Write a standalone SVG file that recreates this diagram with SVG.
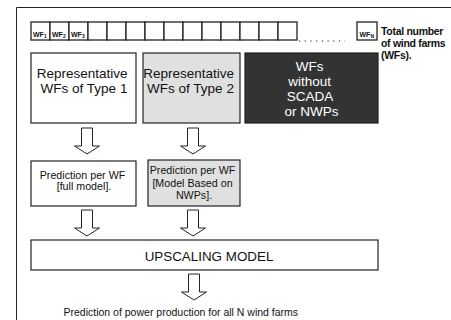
<svg xmlns="http://www.w3.org/2000/svg" width="451" height="320" viewBox="0 0 451 320">
  <defs>
    <style>
      .box { stroke: #222; stroke-width: 1.2; }
      .wf { fill: #fff; stroke: #222; stroke-width: 1.3; }
      .t { font-family: "Liberation Sans", Arial, sans-serif; fill: #111; }
      .lbl { font-family: "Liberation Sans", Arial, sans-serif; font-weight: bold; font-size: 7px; fill: #111; }
      .arrow { fill: #fff; stroke: #222; stroke-width: 1; }
    </style>
  </defs>
  <rect width="451" height="320" fill="#fff"/>

  <!-- outer frame (runs past the canvas edges) -->
  <path d="M16.5,330 V7.5 H460" fill="none" stroke="#222" stroke-width="1"/>

  <!-- row of wind farm cells -->
  <g id="wf-row">
    <rect class="wf" x="31" y="22" width="19" height="18"/>
    <rect class="wf" x="50" y="22" width="19" height="18"/>
    <rect class="wf" x="69" y="22" width="19" height="18"/>
    <rect class="wf" x="88" y="22" width="19" height="18"/>
    <rect class="wf" x="107" y="22" width="19" height="18"/>
    <rect class="wf" x="126" y="22" width="19" height="18"/>
    <rect class="wf" x="145" y="22" width="19" height="18"/>
    <rect class="wf" x="164" y="22" width="19" height="18"/>
    <rect class="wf" x="183" y="22" width="19" height="18"/>
    <rect class="wf" x="202" y="22" width="19" height="18"/>
    <rect class="wf" x="221" y="22" width="19" height="18"/>
    <rect class="wf" x="240" y="22" width="19" height="18"/>
    <rect class="wf" x="259" y="22" width="19" height="18"/>
    <rect class="wf" x="278" y="22" width="19" height="18"/>
    <text class="lbl" x="33" y="36.5">WF<tspan font-size="5" dy="1">1</tspan></text>
    <text class="lbl" x="52" y="36.5">WF<tspan font-size="5" dy="1">2</tspan></text>
    <text class="lbl" x="71" y="36.5">WF<tspan font-size="5" dy="1">3</tspan></text>
    <line x1="299" y1="41" x2="345" y2="41" stroke="#222" stroke-width="1.2" stroke-dasharray="1.2 4.5"/>
    <rect class="wf" x="357" y="22" width="20" height="18"/>
    <text class="lbl" x="359.5" y="36.5">WF<tspan font-size="5" dy="1">N</tspan></text>
  </g>

  <g id="legend">
    <text class="t" font-size="10.5" font-weight="bold" letter-spacing="-0.3">
      <tspan x="381" y="34.5">Total number</tspan>
      <tspan x="381" y="47">of wind farms</tspan>
      <tspan x="381" y="59">(WFs).</tspan>
    </text>
  </g>

  <!-- first level groups -->
  <g id="type1">
    <rect class="box" x="31" y="53" width="105" height="70" fill="#fff"/>
    <text class="t" font-size="13.5" text-anchor="middle">
      <tspan x="84" y="77.5">Representative</tspan>
      <tspan x="84" y="92.5">WFs of Type 1</tspan>
    </text>
  </g>
  <g id="type2">
    <rect class="box" x="143" y="53" width="97" height="70" fill="#e0e0e0" stroke="#444"/>
    <text class="t" font-size="13.5" text-anchor="middle">
      <tspan x="190.5" y="77.5">Representative</tspan>
      <tspan x="190.5" y="92.5">WFs of Type 2</tspan>
    </text>
  </g>
  <g id="no-scada">
    <rect class="box" x="245" y="53" width="133" height="70" fill="#333"/>
    <text class="t" font-size="13.5" text-anchor="middle" style="fill:#fff">
      <tspan x="311.5" y="70.5">WFs</tspan>
      <tspan x="311.5" y="85.5">without</tspan>
      <tspan x="311.5" y="100.5">SCADA</tspan>
      <tspan x="311.5" y="115.5">or NWPs</tspan>
    </text>
  </g>

  <!-- prediction models -->
  <g id="pred-full">
    <rect class="box" x="31" y="161" width="105" height="45" fill="#fff"/>
    <text class="t" font-size="10.7" text-anchor="middle">
      <tspan x="84" y="178.5">Prediction per WF</tspan>
      <tspan x="84" y="189.5">[full model].</tspan>
    </text>
  </g>
  <g id="pred-nwp">
    <rect class="box" x="148" y="160" width="92" height="46" fill="#e0e0e0"/>
    <text class="t" font-size="10.7" text-anchor="middle">
      <tspan x="194" y="174">Prediction per WF</tspan>
      <tspan x="194" y="186.5">[Model Based on</tspan>
      <tspan x="194" y="199">NWPs].</tspan>
    </text>
  </g>

  <g id="upscaling">
    <rect class="box" x="31" y="240" width="347" height="30" fill="#fff"/>
    <text class="t" font-size="13.4" text-anchor="middle" x="209" y="260.5">UPSCALING MODEL</text>
  </g>

  <g id="output">
    <text class="t" font-size="10.5" x="63.5" y="315.5">Prediction of power production for all N wind farms</text>
  </g>

  <!-- block arrows -->
  <g id="connectors">
    <path class="arrow" d="M81.5,128 H92.5 V146 H99.5 L87,154 L74.5,146 H81.5 Z"/>
    <path class="arrow" d="M187.5,128 H198.5 V146 H205.5 L193,154 L180.5,146 H187.5 Z"/>
    <path class="arrow" d="M81.5,210 H92.5 V228 H99.5 L87,236 L74.5,228 H81.5 Z"/>
    <path class="arrow" d="M187.5,210 H198.5 V228 H205.5 L193,236 L180.5,228 H187.5 Z"/>
    <path class="arrow" d="M188.5,274 H199.5 V292 H206.5 L194,300 L181.5,292 H188.5 Z"/>
  </g>
</svg>
